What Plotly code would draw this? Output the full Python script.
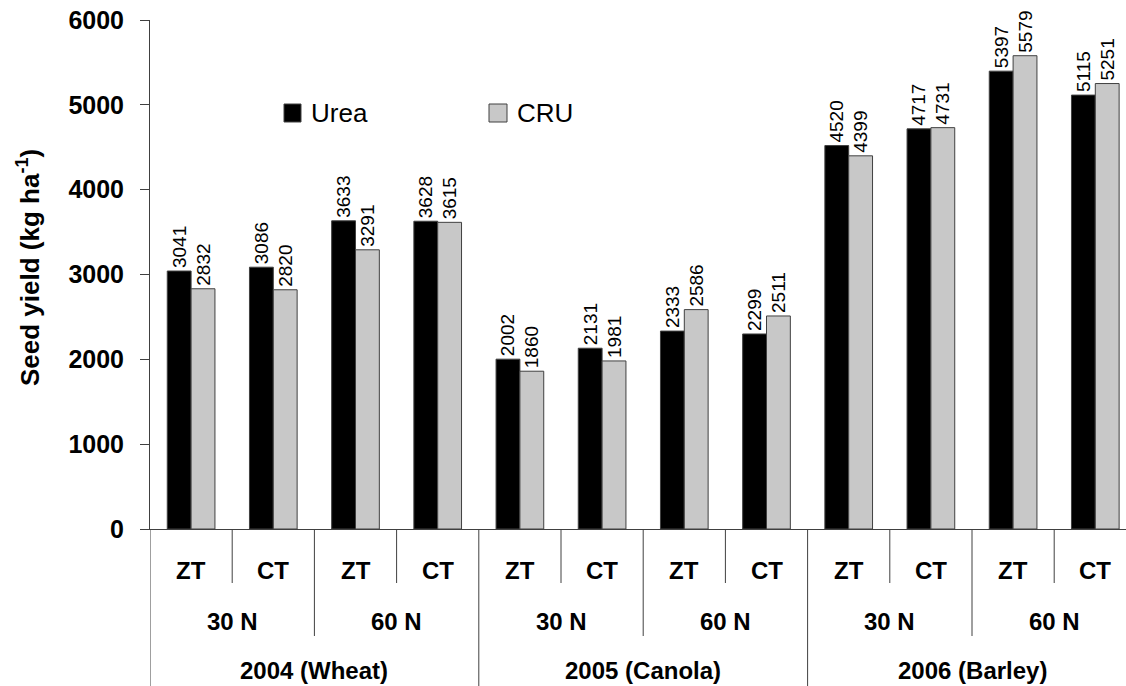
import plotly.graph_objects as go

# ---- data ----
tillage = ["ZT", "CT", "ZT", "CT", "ZT", "CT", "ZT", "CT", "ZT", "CT", "ZT", "CT"]
n_rates = ["30 N", "60 N", "30 N", "60 N", "30 N", "60 N"]
years = ["2004 (Wheat)", "2005 (Canola)", "2006 (Barley)"]
urea = [3041, 3086, 3633, 3628, 2002, 2131, 2333, 2299, 4520, 4717, 5397, 5115]
cru = [2832, 2820, 3291, 3615, 1860, 1981, 2586, 2511, 4399, 4731, 5579, 5251]
series_names = ["Urea", "CRU"]
y_ticks = [0, 1000, 2000, 3000, 4000, 5000, 6000]

FONT = "Liberation Sans, Arial, sans-serif"
W, H = 1126, 686
L, R, T, B = 150, 0, 20, 157
plot_w = W - L - R
plot_h = H - T - B
group_px = 82.2
x_lo = -0.5
x_hi = x_lo + plot_w / group_px

def py2paper(py):
    return (H - B - py) / plot_h

def px2paper(px):
    return (px - L) / plot_w

idx = list(range(len(tillage)))
fig = go.Figure()
for name, vals, col in [(series_names[0], urea, "#000000"), (series_names[1], cru, "#C8C8C8")]:
    fig.add_trace(go.Bar(
        x=idx, y=vals, name=name,
        marker=dict(color=col, line=dict(color="#404040", width=1)),
        text=[str(v) for v in vals], textposition="outside", textangle=-90,
        textfont=dict(family=FONT, size=19, color="#000000"),
        constraintext="none", cliponaxis=False, showlegend=False,
        hoverinfo="skip",
    ))

shapes = []
annotations = []
line_col = "#404040"
# separators
for b in range(1, len(tillage)):
    xb = b - 0.5
    if b % 4 == 0:
        yb = py2paper(H)
    elif b % 2 == 0:
        yb = py2paper(636)
    else:
        yb = py2paper(583)
    shapes.append(dict(type="line", xref="x", yref="paper", x0=xb, x1=xb, y0=0, y1=yb,
                       line=dict(color=line_col, width=1)))
# left axis extension
shapes.append(dict(type="line", xref="x", yref="paper", x0=-0.5, x1=-0.5, y0=0, y1=py2paper(H),
                   line=dict(color=line_col, width=1)))

# category labels
for i, t in enumerate(tillage):
    annotations.append(dict(x=i, y=py2paper(570), xref="x", yref="paper", text="<b>%s</b>" % t,
                            showarrow=False, xanchor="center", yanchor="middle",
                            font=dict(family=FONT, size=24, color="#000000")))
for j, n in enumerate(n_rates):
    annotations.append(dict(x=2 * j + 0.5, y=py2paper(621), xref="x", yref="paper", text="<b>%s</b>" % n,
                            showarrow=False, xanchor="center", yanchor="middle",
                            font=dict(family=FONT, size=24, color="#000000")))
for k, yr in enumerate(years):
    annotations.append(dict(x=4 * k + 1.5, y=py2paper(670), xref="x", yref="paper", text="<b>%s</b>" % yr,
                            showarrow=False, xanchor="center", yanchor="middle",
                            font=dict(family=FONT, size=24, color="#000000")))

# y-axis title
annotations.append(dict(x=px2paper(28), y=py2paper(268), xref="paper", yref="paper",
                        text="<b>Seed yield (kg ha<sup>-1</sup>)</b>", textangle=-90,
                        showarrow=False, xanchor="center", yanchor="middle",
                        font=dict(family=FONT, size=26, color="#000000")))

# manual legend
for (bx0, bx1, tx, name, col) in [(284, 301, 309, series_names[0], "#000000"),
                                  (489, 507, 515, series_names[1], "#C8C8C8")]:
    shapes.append(dict(type="rect", xref="paper", yref="paper",
                       x0=px2paper(bx0), x1=px2paper(bx1), y0=py2paper(122), y1=py2paper(104),
                       fillcolor=col, line=dict(color="#404040", width=1)))
    annotations.append(dict(x=px2paper(tx), y=py2paper(113), xref="paper", yref="paper", text=name,
                            showarrow=False, xanchor="left", yanchor="middle",
                            font=dict(family=FONT, size=26, color="#000000")))

fig.update_layout(
    width=W, height=H,
    margin=dict(l=L, r=R, t=T, b=B, pad=0),
    paper_bgcolor="white", plot_bgcolor="white",
    barmode="group", bargap=0.42, bargroupgap=0,
    shapes=shapes, annotations=annotations,
    hovermode=False,
    xaxis=dict(range=[x_lo, x_hi], showticklabels=False, showgrid=False, zeroline=False,
               showline=True, linecolor=line_col, linewidth=1, ticks="", fixedrange=True),
    yaxis=dict(range=[0, 6000], tickvals=y_ticks, showgrid=False, zeroline=False,
               showline=True, linecolor=line_col, linewidth=1, ticks="outside", ticklen=9,
               tickcolor=line_col, ticklabelstandoff=11, fixedrange=True,
               tickfont=dict(family=FONT, size=25, color="#000000", weight="bold")),
    font=dict(family=FONT),
)

fig.write_html("out.html", config={"displayModeBar": False},
               post_script="document.body.style.margin='0';document.body.style.overflow='hidden';")
